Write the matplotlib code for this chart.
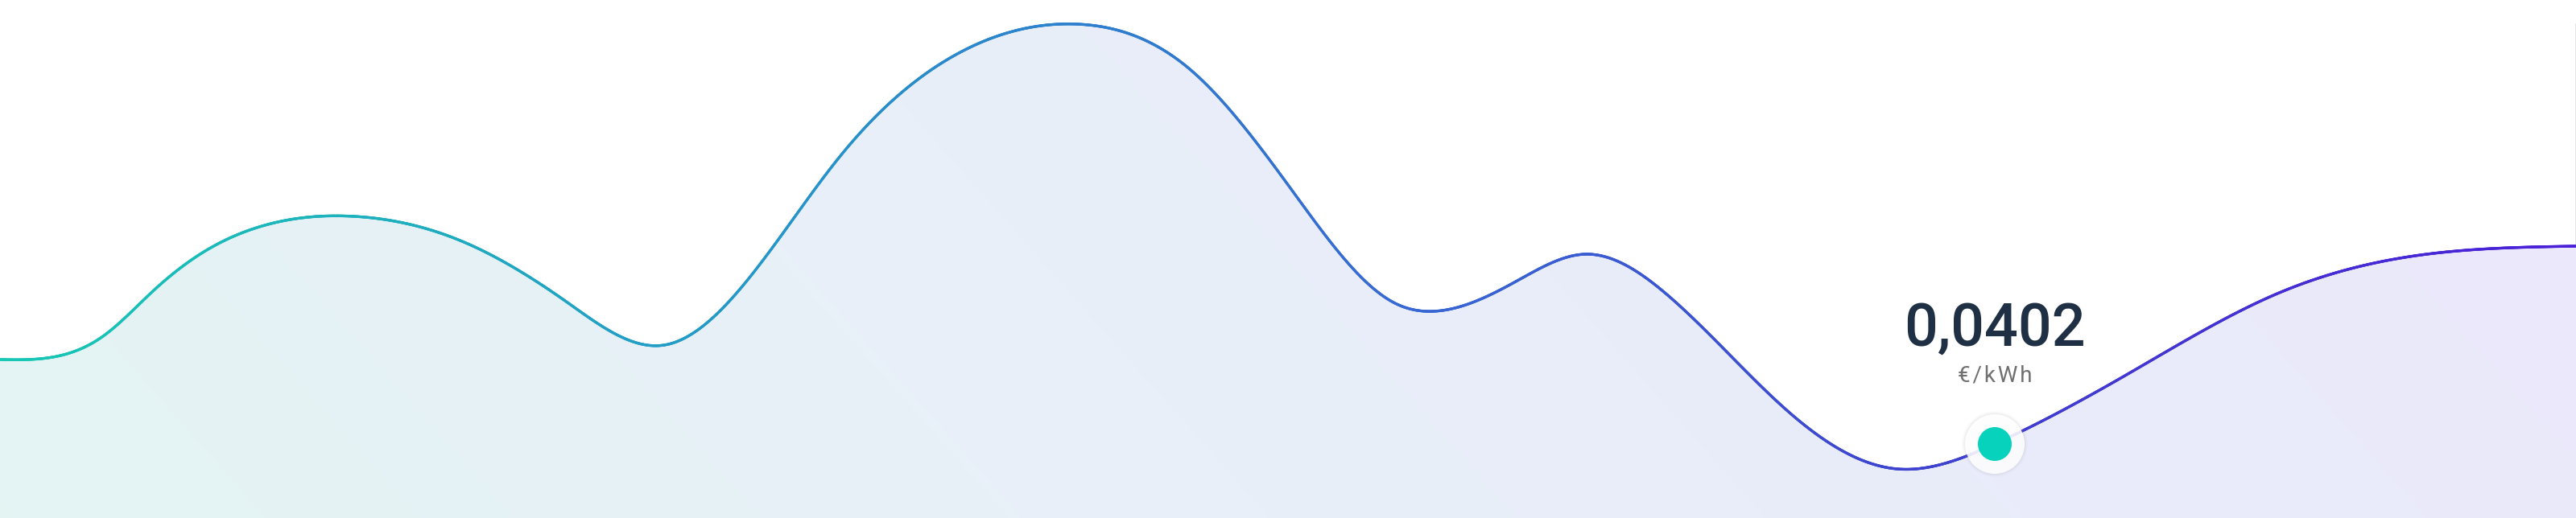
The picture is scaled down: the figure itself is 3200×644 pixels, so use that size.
import numpy as np
import matplotlib
matplotlib.use("Agg")
import matplotlib.pyplot as plt
from matplotlib.collections import LineCollection
from matplotlib.colors import LinearSegmentedColormap
from matplotlib.patches import Circle

# price curve (x along the day, height of the curve)
positions = [0, 128, 191, 255, 319, 440, 574, 702, 825, 910, 1043,
             1191, 1338, 1478, 1606, 1733, 1780, 1883, 1970, 2067, 2223,
             2357, 2478, 2638, 2829, 3000, 3200]
levels = [197, 226, 283, 332, 361, 375, 344, 270, 215, 274, 449,
          578, 614, 558, 406, 267, 257, 294, 328, 281, 131,
          61, 92, 176, 279, 326, 338]
current_pos = 2478
current_price = "0,0402"
unit_label = "€/kWh"

W, H = 3200, 644


# natural cubic spline through the read points, for a smooth line
def smooth(xs, ys, n=4000):
    xs = np.asarray(xs, float)
    ys = np.asarray(ys, float)
    k = len(xs)
    h = np.diff(xs)
    A = np.zeros((k, k))
    b = np.zeros(k)
    A[0, 0] = A[-1, -1] = 1
    for j in range(1, k - 1):
        A[j, j - 1] = h[j - 1]
        A[j, j] = 2 * (h[j - 1] + h[j])
        A[j, j + 1] = h[j]
        b[j] = 6 * ((ys[j + 1] - ys[j]) / h[j] - (ys[j] - ys[j - 1]) / h[j - 1])
    M = np.linalg.solve(A, b)
    xx = np.linspace(xs[0], xs[-1], n)
    i = np.clip(np.searchsorted(xs, xx, side="right") - 1, 0, k - 2)
    a = xs[i + 1] - xx
    c = xx - xs[i]
    hi = h[i]
    yy = (M[i] * a**3 + M[i + 1] * c**3) / (6 * hi) \
        + (ys[i] / hi - M[i] * hi / 6) * a + (ys[i + 1] / hi - M[i + 1] * hi / 6) * c
    return xx, yy


xx, yy = smooth(positions, levels)

fig = plt.figure(figsize=(W / 100, H / 100), dpi=100)
ax = fig.add_axes([0, 0, 1, 1])
ax.set_xlim(0, W)
ax.set_ylim(0, H)
ax.axis("off")

# gradient fill under the curve
fill_cmap = LinearSegmentedColormap.from_list(
    "fill", ["#e4f4f3", "#e8f0f8", "#e9ecfa", "#ebe7fb"])
gx, gy = np.meshgrid(np.linspace(0, 1, 400), np.linspace(0, 1, 80))
grad = 0.85 * gx + 0.15 * gy
poly = ax.fill_between(xx, 0, yy, color="none", lw=0)
img = ax.imshow(grad, cmap=fill_cmap, extent=[0, W, 0, H], origin="lower",
                aspect="auto", interpolation="bilinear", zorder=1)
img.set_clip_path(poly.get_paths()[0], transform=ax.transData)

# gradient line
line_cmap = LinearSegmentedColormap.from_list(
    "line", [(0.0, "#17c8b4"), (0.3, "#2596c9"), (0.55, "#3868d3"),
             (0.75, "#3f42cf"), (1.0, "#4a20d8")])
pts = np.column_stack([xx, yy]).reshape(-1, 1, 2)
segs = np.concatenate([pts[:-1], pts[1:]], axis=1)
lc = LineCollection(segs, cmap=line_cmap, linewidths=2.4, capstyle="round", zorder=3)
lc.set_array(xx[:-1] / W)
ax.add_collection(lc)

# thin border at the right end of the chart
ax.plot([positions[-1] - 0.5] * 2, [levels[-1], H - 30], color="#e2e2e2", lw=1.2, zorder=2)

# highlighted current price
cy = levels[positions.index(current_pos)]
for r, a in [(41, 0.03), (39.5, 0.05), (38.5, 0.07)]:
    ax.add_patch(Circle((current_pos, cy), r, color="#9a9aa8", alpha=a, lw=0, zorder=4))
ax.add_patch(Circle((current_pos, cy), 37, color="white", alpha=0.88, lw=0, zorder=5))
ax.add_patch(Circle((current_pos, cy), 21, color="#07d3bd", lw=0, zorder=6))

ax.text(current_pos, cy + 122, current_price, ha="center", va="baseline",
        fontsize=53, fontfamily=["Roboto", "DejaVu Sans"], fontweight="medium",
        color="#1f3044", zorder=6)
# the unit is letter-spaced in the reference: hair spaces between letters
ax.text(current_pos, cy + 77, "\u200a".join(unit_label), ha="center", va="baseline",
        fontsize=20, fontfamily=["Roboto", "DejaVu Sans"], color="#707070", zorder=6)

fig.savefig("out.png", dpi=100, facecolor="white")
